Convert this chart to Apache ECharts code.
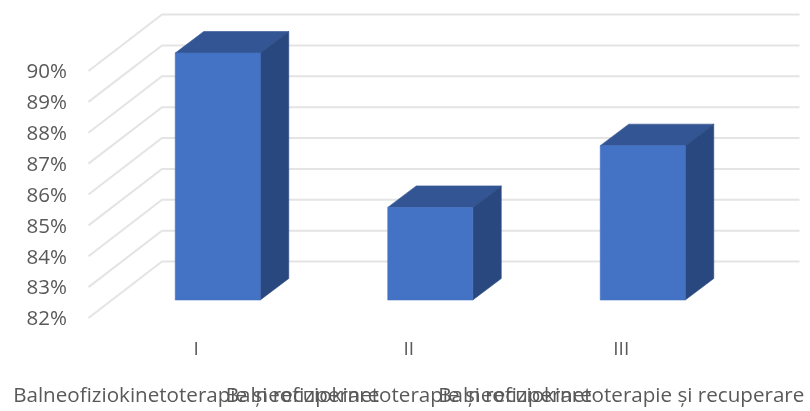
<!DOCTYPE html>
<html>
<head>
<meta charset="utf-8">
<style>html,body{margin:0;padding:0;background:#fff}#c{width:810px;height:411px}</style>
<script src="https://cdn.jsdelivr.net/npm/echarts@6/dist/echarts.min.js"></script>
</head>
<body>
<div id="c"></div>
<script>
var categories = ['I', 'II', 'III'];
var groupLabels = ['Balneofiziokinetoterapie și recuperare', 'Balneofiziokinetoterapie și recuperare', 'Balneofiziokinetoterapie și recuperare'];
var values = [90, 85, 87];
var yTicks = [82, 83, 84, 85, 86, 87, 88, 89, 90];

var FONT = '"Open Sans", sans-serif';
var TEXT = '#595959';
var WALL_DX = 72, WALL_DY = -55.5;
var BAR_DX = 21.5, BAR_DY = -17;
var DEPTH_DX = 28.5, DEPTH_DY = -21.5;
var BAR_WIDTH_RATIO = 0.4;

function renderWall(params, api) {
  var p = api.coord([0, api.value(1)]);
  var cs = params.coordSys;
  var x0 = cs.x, x1 = x0 + WALL_DX, x2 = cs.x + cs.width + WALL_DX, y = p[1];
  return {
    type: 'polyline',
    shape: { points: [[x0 - 1.5, y + 1], [x1, y + WALL_DY], [x2, y + WALL_DY]] },
    style: { stroke: '#E4E4E4', lineWidth: 2, fill: null }
  };
}

function renderBar(params, api) {
  var top = api.coord([api.value(0), api.value(1)]);
  var base = api.coord([api.value(0), yTicks[0]]);
  var w = api.size([1, 0])[0] * BAR_WIDTH_RATIO;
  var l = top[0] + BAR_DX - w / 2, r = l + w;
  var t = top[1] + BAR_DY, b = base[1] + BAR_DY;
  return {
    type: 'group',
    children: [
      { type: 'polygon', shape: { points: [[l, t], [r, t], [r + DEPTH_DX, t + DEPTH_DY], [l + DEPTH_DX, t + DEPTH_DY]] }, style: { fill: '#335593', stroke: '#335593', lineWidth: 0.6 } },
      { type: 'polygon', shape: { points: [[r, t], [r + DEPTH_DX, t + DEPTH_DY], [r + DEPTH_DX, b + DEPTH_DY], [r, b]] }, style: { fill: '#2A4880', stroke: '#2A4880', lineWidth: 0.6 } },
      { type: 'rect', shape: { x: l, y: t, width: w, height: b - t }, style: { fill: '#4472C4', stroke: '#4472C4', lineWidth: 0.6 } }
    ]
  };
}

var chart = echarts.init(document.getElementById('c'), null, { renderer: 'canvas' });
chart.setOption({
  animation: false,
  backgroundColor: '#fff',
  grid: { left: 90, top: 70, width: 637.5, height: 247 },
  xAxis: [
    {
      type: 'category', data: categories,
      axisLine: { show: false }, axisTick: { show: false }, splitLine: { show: false },
      axisLabel: { margin: 23, interval: 0, fontFamily: FONT, fontSize: 19, color: TEXT }
    },
    {
      type: 'category', data: groupLabels, position: 'bottom',
      axisLine: { show: false }, axisTick: { show: false }, splitLine: { show: false },
      axisLabel: { margin: 69, interval: 0, fontFamily: FONT, fontSize: 20.6, color: TEXT, hideOverlap: false }
    }
  ],
  yAxis: {
    type: 'value', min: yTicks[0], max: yTicks[yTicks.length - 1], interval: 1,
    axisLine: { show: false }, axisTick: { show: false }, splitLine: { show: false },
    axisLabel: {
      formatter: '{t|{value}%}', margin: 23, color: TEXT,
      rich: { t: { fontFamily: FONT, fontSize: 20.5, color: TEXT, padding: [5, 0, 0, 0] } }
    }
  },
  series: [
    { type: 'custom', name: 'walls', renderItem: renderWall, silent: true, z: 1,
      encode: { x: 0, y: 1 },
      data: yTicks.map(function (v) { return [0, v]; }) },
    { type: 'custom', name: 'bars', renderItem: renderBar, z: 2,
      encode: { x: 0, y: 1 },
      data: values.map(function (v, i) { return [i, v]; }) }
  ]
});
</script>
</body>
</html>
